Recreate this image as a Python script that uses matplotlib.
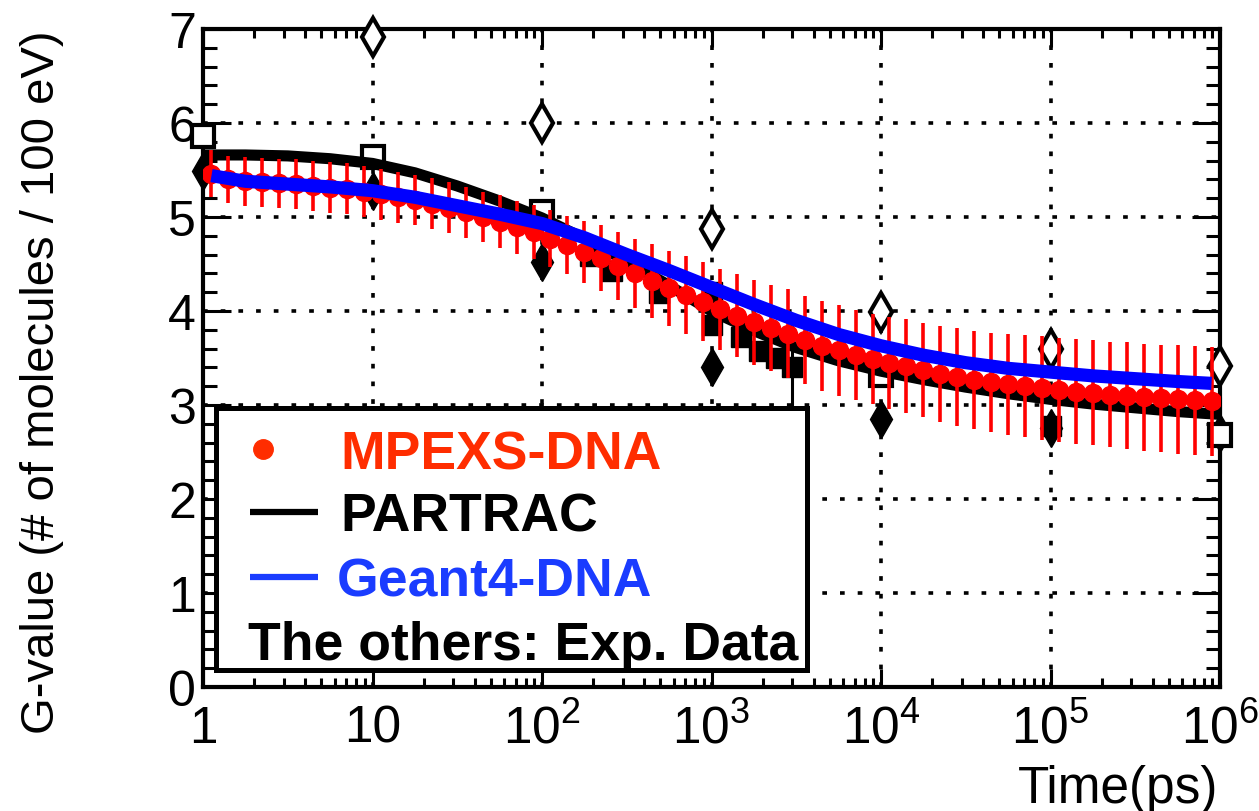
import numpy as np
import matplotlib
matplotlib.use("Agg")
import matplotlib.pyplot as plt
from matplotlib.ticker import MultipleLocator, LogLocator, NullFormatter
from matplotlib.patches import Rectangle

plt.rcParams['font.family'] = ['Liberation Sans', 'DejaVu Sans']
plt.rcParams['mathtext.fontset'] = 'custom'
plt.rcParams['mathtext.rm'] = 'Liberation Sans'
plt.rcParams['mathtext.it'] = 'Liberation Sans:italic'
plt.rcParams['mathtext.bf'] = 'Liberation Sans:bold'

# ---- MPEXS-DNA (bin centres, 0.1 decade) ----
mp_logt = np.arange(0.05, 6.0, 0.1)
mp_g = [5.46, 5.40, 5.38, 5.37, 5.36, 5.35, 5.33, 5.31, 5.30, 5.27,
        5.24, 5.21, 5.18, 5.14, 5.10, 5.05, 5.00, 4.95, 4.89, 4.84,
        4.77, 4.70, 4.63, 4.56, 4.48, 4.40, 4.32, 4.24, 4.17, 4.10,
        4.02, 3.95, 3.88, 3.82, 3.76, 3.69, 3.63, 3.58, 3.53, 3.49,
        3.45, 3.41, 3.37, 3.33, 3.30, 3.27, 3.24, 3.22, 3.20, 3.18,
        3.16, 3.14, 3.13, 3.11, 3.10, 3.08, 3.07, 3.06, 3.05, 3.04]
mp_err = [0.25, 0.25, 0.26, 0.26, 0.26, 0.27, 0.27, 0.27, 0.27, 0.27,
          0.27, 0.27, 0.27, 0.27, 0.27, 0.27, 0.27, 0.28, 0.28, 0.29,
          0.30, 0.31, 0.33, 0.35, 0.36, 0.37, 0.39, 0.40, 0.41, 0.42,
          0.43, 0.44, 0.45, 0.46, 0.47, 0.47, 0.48, 0.48, 0.48, 0.48,
          0.49, 0.50, 0.50, 0.51, 0.52, 0.52, 0.53, 0.54, 0.54, 0.55,
          0.55, 0.56, 0.56, 0.56, 0.57, 0.57, 0.57, 0.58, 0.58, 0.58]

# ---- PARTRAC ----
pt_logt = [0.00, 0.25, 0.50, 0.75, 1.00, 1.25, 1.50, 1.75, 2.00, 2.25, 2.50, 2.75, 3.00,
           3.25, 3.50, 3.75, 4.00, 4.25, 4.50, 4.75, 5.00, 5.25, 5.50, 5.75, 6.00]
pt_g = [5.66, 5.66, 5.65, 5.62, 5.57, 5.47, 5.33, 5.17, 4.99, 4.77, 4.53, 4.27, 4.00,
        3.79, 3.61, 3.47, 3.36, 3.27, 3.19, 3.12, 3.06, 3.01, 2.97, 2.93, 2.90]

# ---- Geant4-DNA ----
g4_logt = [0.05, 0.25, 0.50, 0.75, 1.00, 1.25, 1.50, 1.75, 2.00, 2.25, 2.50, 2.75, 3.00,
           3.25, 3.50, 3.75, 4.00, 4.25, 4.50, 4.75, 5.00, 5.25, 5.50, 5.75, 5.95]
g4_g = [5.44, 5.38, 5.35, 5.32, 5.28, 5.21, 5.12, 5.03, 4.93, 4.78, 4.60, 4.43, 4.25,
        4.07, 3.90, 3.75, 3.63, 3.53, 3.45, 3.39, 3.35, 3.31, 3.28, 3.25, 3.23]

# ---- experimental data ----
od_t = [10, 1e2, 1e3, 1e4, 1e5, 1e6]
od_g = [6.92, 6.00, 4.87, 3.99, 3.60, 3.41]
fd_t = [1, 10, 1e2, 1e3, 1e4, 1e5, 1e6]
fd_g = [5.49, 5.28, 4.52, 3.40, 2.85, 2.76, 2.70]
os_t = [1, 10, 1e2, 1e4, 1e6]
os_g = [5.86, 5.64, 5.05, 3.32, 2.68]
os_err = [0, 0, 0, 0, 0.40]
fs_t = [192, 260, 490, 1000, 1000, 1500, 1900, 2400, 3000, 1e5]
fs_g = [4.59, 4.43, 4.19, 4.20, 3.85, 3.72, 3.57, 3.50, 3.40, 2.78]
fs_err = [0, 0, 0, 0, 0, 0, 0, 0, 0.55, 0]

xticks = [1, 10, 1e2, 1e3, 1e4, 1e5, 1e6]
xticklabels = ['1', '10', r'$10^{2}$', r'$10^{3}$', r'$10^{4}$', r'$10^{5}$', r'$10^{6}$']

W, H = 1259, 812
fig = plt.figure(figsize=(W / 100, H / 100), dpi=100)
L, R, T, B = 203, 1220, 30, 688
ax = fig.add_axes([L / W, 1 - B / H, (R - L) / W, (B - T) / H])

ax.set_xscale('log')
ax.set_xlim(1, 1e6)
ax.set_ylim(0, 7)

# exp data (bottom layer, not clipped like ROOT)
ax.errorbar(fs_t, fs_g, yerr=fs_err, fmt='s', color='black', ms=15, elinewidth=2.2,
            capsize=0, zorder=3, clip_on=False)
ax.errorbar(os_t, os_g, yerr=os_err, fmt='s', color='black', mfc='white', ms=16, mew=3,
            elinewidth=2.2, capsize=0, zorder=3, clip_on=False)
ax.plot(fd_t, fd_g, 'd', color='black', ms=19, zorder=3, clip_on=False)
ax.plot(od_t, od_g, 'd', color='black', mfc='white', ms=19, mew=3, zorder=3, clip_on=False)

ax.plot(10 ** np.array(pt_logt), pt_g, color='black', lw=8, solid_capstyle='butt', zorder=4)
ax.errorbar(10 ** mp_logt, mp_g, yerr=mp_err, fmt='o', color='red', ms=13, elinewidth=2.6,
            capsize=0, zorder=5)
ax.plot(10 ** np.array(g4_logt), g4_g, color='blue', lw=9.5, solid_capstyle='butt', zorder=6)

# axes styling
ax.set_xticks(xticks)
ax.set_xticklabels(xticklabels)
ax.xaxis.set_minor_locator(LogLocator(base=10, subs=np.arange(2, 10)))
ax.xaxis.set_minor_formatter(NullFormatter())
ax.yaxis.set_major_locator(MultipleLocator(1))
ax.yaxis.set_minor_locator(MultipleLocator(0.2))
ax.tick_params(which='both', direction='in', top=True, right=True, width=2.2, colors='black')
ax.tick_params(axis='y', which='major', length=20, labelsize=36, pad=5)
ax.tick_params(axis='y', which='minor', length=10)
ax.tick_params(axis='x', which='major', length=13, labelsize=37, pad=12)
ax.tick_params(axis='x', which='minor', length=6.5)
for s in ax.spines.values():
    s.set_linewidth(3)
ax.grid(True, which='major', color='black', ls=(0, (1.3, 3.6)), lw=2.6)
ax.set_axisbelow(True)

# legend box drawn by hand, ROOT style
def axx(px): return (px - L) / (R - L)
def axy(py): return (B - py) / (B - T)

ax.add_patch(Rectangle((axx(216), axy(671)), axx(807) - axx(216), axy(409) - axy(671),
                       transform=ax.transAxes, fc='white', ec='black', lw=3.6, zorder=10))
ax.plot([axx(263)], [axy(450)], 'o', color='#ff2d00', ms=14, transform=ax.transAxes,
        zorder=11, clip_on=False)
ax.plot([axx(250), axx(318)], [axy(513)] * 2, color='black', lw=4.5, transform=ax.transAxes,
        zorder=11, clip_on=False, solid_capstyle='butt')
ax.plot([axx(250), axx(318)], [axy(578)] * 2, color='#1a3cff', lw=4.5, transform=ax.transAxes,
        zorder=11, clip_on=False, solid_capstyle='butt')
leg_kw = dict(transform=ax.transAxes, fontsize=38.5, fontweight='bold', va='baseline', zorder=12)
ax.text(axx(340), axy(470), 'MPEXS-DNA', color='#ff2d00', **leg_kw)
ax.text(axx(340), axy(532), 'PARTRAC', color='black', **leg_kw)
ax.text(axx(337), axy(597), 'Geant4-DNA', color='#1a3cff', **leg_kw)
ax.text(axx(248), axy(660), 'The others: Exp. Data', color='black', **leg_kw)

fig.text(42 / W, 1 - 382 / H, 'G-value (# of molecules / 100 eV)', rotation=90,
         ha='center', va='center', fontsize=34)
fig.text(1218 / W, 1 - 790 / H, 'Time(ps)', ha='right', va='center', fontsize=37)

fig.savefig('out.png', dpi=100)
